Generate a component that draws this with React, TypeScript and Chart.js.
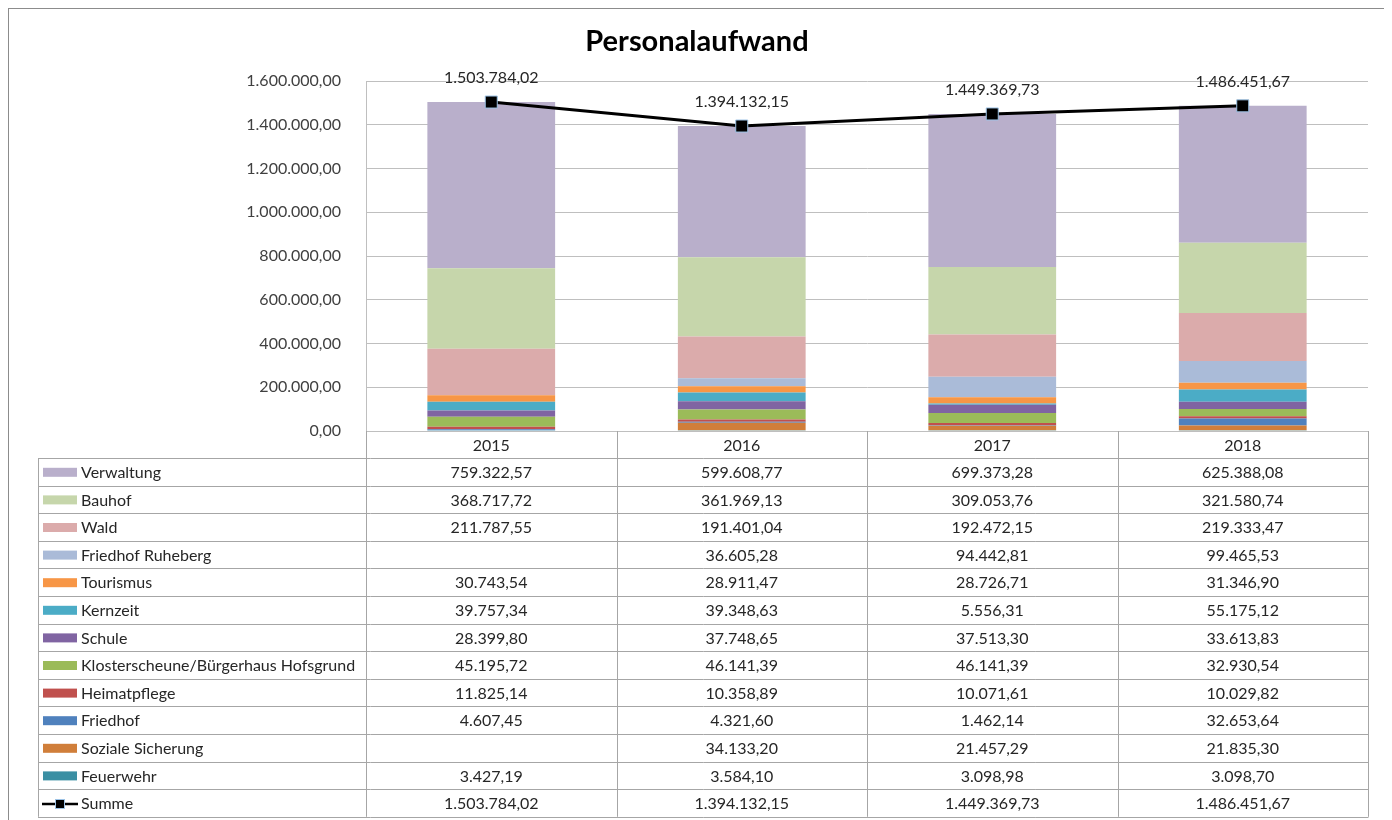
import React, { useEffect, useRef } from "react";
import { Chart, registerables } from "chart.js";

Chart.register(...registerables);

const years = ["2015", "2016", "2017", "2018"];
const verwaltung = [759322.57, 599608.77, 699373.28, 625388.08];
const bauhof = [368717.72, 361969.13, 309053.76, 321580.74];
const wald = [211787.55, 191401.04, 192472.15, 219333.47];
const friedhofRuheberg = [null, 36605.28, 94442.81, 99465.53];
const tourismus = [30743.54, 28911.47, 28726.71, 31346.9];
const kernzeit = [39757.34, 39348.63, 5556.31, 55175.12];
const schule = [28399.8, 37748.65, 37513.3, 33613.83];
const kloster = [45195.72, 46141.39, 46141.39, 32930.54];
const heimatpflege = [11825.14, 10358.89, 10071.61, 10029.82];
const friedhof = [4607.45, 4321.6, 1462.14, 32653.64];
const sozialeSicherung = [null, 34133.2, 21457.29, 21835.3];
const feuerwehr = [3427.19, 3584.1, 3098.98, 3098.7];
const summe = [1503784.02, 1394132.15, 1449369.73, 1486451.67];

const seriesLabels = [
  "Verwaltung",
  "Bauhof",
  "Wald",
  "Friedhof Ruheberg",
  "Tourismus",
  "Kernzeit",
  "Schule",
  "Klosterscheune/Bürgerhaus Hofsgrund",
  "Heimatpflege",
  "Friedhof",
  "Soziale Sicherung",
  "Feuerwehr",
];
const seriesData = [
  verwaltung,
  bauhof,
  wald,
  friedhofRuheberg,
  tourismus,
  kernzeit,
  schule,
  kloster,
  heimatpflege,
  friedhof,
  sozialeSicherung,
  feuerwehr,
];
const seriesColors = [
  "#B9AFCB",
  "#C6D6AB",
  "#DBABAB",
  "#AABBD8",
  "#F79646",
  "#4BACC6",
  "#8064A2",
  "#9BBB59",
  "#C0504D",
  "#4F81BD",
  "#D07E3A",
  "#3A8FA3",
];
const summeLabel = "Summe";
const yTicks = { min: 0, max: 1600000, step: 200000 };

const FONT = "Lato, 'Open Sans', sans-serif";

function fmt(v: number | null): string {
  if (v === null || v === undefined) return "";
  const [i, d] = v.toFixed(2).split(".");
  return i.replace(/\B(?=(\d{3})+(?!\d))/g, ".") + "," + d;
}

const tablePlugin = {
  id: "excelTable",
  afterDraw(chart: any) {
    const ctx = chart.ctx;
    const { left, right, bottom } = chart.chartArea;
    const W = chart.width;
    const H = chart.height;
    const colW = (right - left) / years.length;
    const headerH = 27;
    const rowH = 27.6;
    const tableLeft = 30;
    const nRows = seriesLabels.length + 1;
    const hb = bottom + headerH;
    const tb = hb + nRows * rowH;
    const px = (v: number) => Math.round(v) + 0.5;

    ctx.save();
    // frame
    ctx.strokeStyle = "#8C8C8C";
    ctx.lineWidth = 1;
    ctx.strokeRect(0.5, 0.5, W - 1, H + 10);

    // title
    ctx.fillStyle = "#000000";
    ctx.font = `bold 29px ${FONT}`;
    ctx.textAlign = "center";
    ctx.textBaseline = "middle";
    ctx.fillText("Personalaufwand", W / 2 - 1, 34);

    // table lines
    ctx.strokeStyle = "#A6A6A6";
    ctx.beginPath();
    for (let i = 0; i <= years.length; i++) {
      const x = px(left + i * colW);
      ctx.moveTo(x, bottom);
      ctx.lineTo(x, tb);
    }
    ctx.moveTo(px(tableLeft), hb);
    ctx.lineTo(px(tableLeft), tb);
    for (let r = 0; r <= nRows; r++) {
      const y = px(hb + r * rowH);
      ctx.moveTo(tableLeft, y);
      ctx.lineTo(right + 0.5, y);
    }
    ctx.stroke();

    // header
    ctx.fillStyle = "#262626";
    ctx.font = `16px ${FONT}`;
    ctx.textAlign = "center";
    ctx.textBaseline = "middle";
    years.forEach((y, i) => {
      ctx.fillText(y, left + (i + 0.5) * colW, bottom + headerH / 2 + 1);
    });

    // rows
    const allRows = seriesLabels.map((l, i) => ({ label: l, data: seriesData[i] as (number | null)[], color: seriesColors[i] }));
    allRows.push({ label: summeLabel, data: summe, color: "" });
    allRows.forEach((row, r) => {
      const cy = hb + r * rowH + rowH / 2 + 1;
      if (row.color) {
        ctx.fillStyle = row.color;
        ctx.fillRect(35, cy - 5, 34, 9);
      } else {
        ctx.strokeStyle = "#000000";
        ctx.lineWidth = 2.5;
        ctx.beginPath();
        ctx.moveTo(34, cy);
        ctx.lineTo(70, cy);
        ctx.stroke();
        ctx.fillStyle = "#000000";
        ctx.fillRect(47.5, cy - 4.5, 9, 9);
        ctx.strokeStyle = "#9DC3E6";
        ctx.lineWidth = 1;
        ctx.strokeRect(47.5, cy - 4.5, 9, 9);
      }
      ctx.fillStyle = "#262626";
      ctx.textAlign = "left";
      ctx.fillText(row.label, 73, cy);
      ctx.textAlign = "center";
      row.data.forEach((v, i) => {
        ctx.fillText(fmt(v), left + (i + 0.5) * colW, cy);
      });
    });

    // summe data labels
    const li = chart.data.datasets.length - 1;
    const meta = chart.getDatasetMeta(li);
    ctx.fillStyle = "#262626";
    ctx.font = `16px ${FONT}`;
    ctx.textAlign = "center";
    meta.data.forEach((pt: any, i: number) => {
      ctx.fillText(fmt(summe[i]), pt.x, pt.y - 24);
    });
    ctx.restore();
  },
};

export default function App() {
  const ref = useRef<HTMLCanvasElement | null>(null);
  useEffect(() => {
    document.documentElement.style.overflow = "hidden";
    document.body.style.overflow = "hidden";
    const canvas = ref.current!;
    const barSets = seriesLabels
      .map((l, i) => ({
        type: "bar" as const,
        label: l,
        data: seriesData[i],
        backgroundColor: seriesColors[i],
        borderWidth: 0,
        stack: "bars",
        order: 1,
        categoryPercentage: 1,
        barPercentage: 0.51,
      }))
      .reverse();
    const chart = new Chart(canvas, {
      type: "bar",
      data: {
        labels: years,
        datasets: [
          ...barSets,
          {
            type: "line" as const,
            label: summeLabel,
            data: summe,
            borderColor: "#000000",
            borderWidth: 3,
            pointStyle: "rect",
            pointRadius: 8.5,
            pointBackgroundColor: "#000000",
            pointBorderColor: "#9DC3E6",
            pointBorderWidth: 1,
            stack: "sum",
            order: 0,
            tension: 0,
          } as any,
        ],
      },
      options: {
        responsive: false,
        animation: false,
        layout: { padding: { left: 0, right: 20, top: 73, bottom: 389 } },
        plugins: {
          legend: { display: false },
          tooltip: { enabled: false },
          title: { display: false },
        },
        scales: {
          x: { display: false, stacked: true },
          y: {
            stacked: true,
            min: yTicks.min,
            max: yTicks.max,
            ticks: {
              stepSize: yTicks.step,
              padding: 25,
              color: "#404040",
              font: { family: FONT, size: 16 },
              callback: (v: any) => fmt(Number(v)),
            },
            grid: { color: "#BFBFBF", drawTicks: false },
            border: { color: "#BFBFBF" },
            afterFit: (s: any) => {
              s.width = 358;
            },
          },
        },
      },
      plugins: [tablePlugin],
    });
    return () => chart.destroy();
  }, []);
  return (
    <div style={{ width: 1380, height: 812 }}>
      <canvas ref={ref} width={1380} height={812} style={{ width: 1380, height: 812, display: "block" }} />
    </div>
  );
}
